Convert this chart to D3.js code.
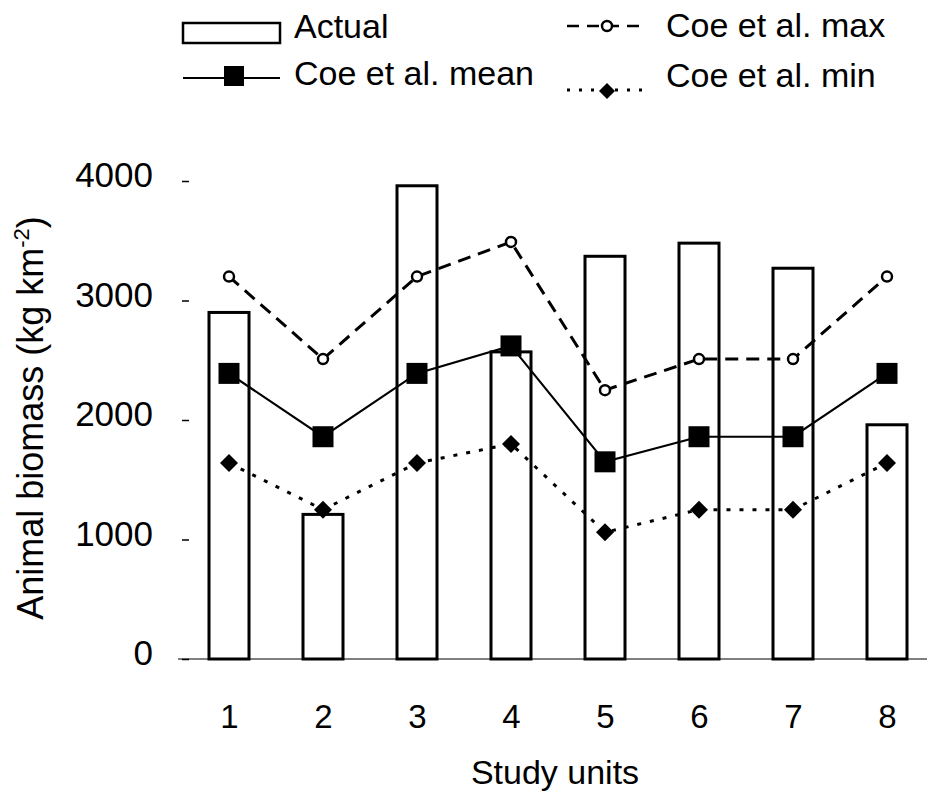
<!DOCTYPE html>
<html>
<head>
<meta charset="utf-8">
<script src="https://cdn.jsdelivr.net/npm/d3@7"></script>
<style>
  html, body { margin: 0; background: #fff; }
  svg { display: block; }
  text { font-family: "Liberation Sans", Arial, Helvetica, sans-serif; fill: #000; }
</style>
</head>
<body>
<svg id="chart" width="927" height="791"></svg>
<script>
// Study units and biomass values (kg km^-2)
const units   = ["1", "2", "3", "4", "5", "6", "7", "8"];
const actual  = [2900, 1210, 3960, 2570, 3370, 3480, 3270, 1960];
const coeMax  = [3200, 2510, 3200, 3490, 2250, 2510, 2510, 3200];
const coeMean = [2390, 1860, 2390, 2620, 1650, 1860, 1860, 2390];
const coeMin  = [1640, 1250, 1640, 1800, 1060, 1250, 1250, 1640];
const yTicks  = [0, 1000, 2000, 3000, 4000];

const svg = d3.select("#chart");

const x = d3.scalePoint().domain(units).range([229, 887]);
const y = d3.scaleLinear().domain([0, 4000]).range([659, 181]);
const barW = 40;

// diamond marker path (square rotated 45 degrees)
const diamond = r => `M0,${-r}L${r},0L0,${r}L${-r},0Z`;

// baseline
svg.append("line")
  .attr("x1", 178).attr("x2", 927)
  .attr("y1", y(0)).attr("y2", y(0))
  .attr("stroke", "#555").attr("stroke-width", 1.5);

// y axis: ticks and labels only
const yAxis = svg.append("g")
  .attr("transform", "translate(189,0)")
  .call(d3.axisLeft(y).tickValues(yTicks).tickSize(7).tickPadding(29).tickFormat(d3.format("d")));
yAxis.select(".domain").remove();
yAxis.selectAll(".tick line").attr("stroke", "#000").attr("stroke-width", 1.5);
yAxis.selectAll(".tick text")
  .attr("dy", "0.17em")
  .style("font-size", "35px")
  .style("font-family", '"Liberation Sans", Arial, sans-serif')
  .attr("fill", "#000");

// x axis labels
const xAxis = svg.append("g")
  .attr("transform", `translate(0,${y(0)})`)
  .call(d3.axisBottom(x).tickSize(0).tickPadding(46));
xAxis.select(".domain").remove();
xAxis.selectAll(".tick text")
  .style("font-size", "33px")
  .style("font-family", '"Liberation Sans", Arial, sans-serif')
  .attr("fill", "#000");

// bars: actual biomass
svg.append("g").selectAll("rect")
  .data(actual)
  .join("rect")
  .attr("x", (d, i) => x(units[i]) - barW / 2)
  .attr("width", barW)
  .attr("y", d => y(d))
  .attr("height", d => y(0) - y(d))
  .attr("fill", "#fff")
  .attr("stroke", "#000")
  .attr("stroke-width", 3);

const line = d3.line().x((d, i) => x(units[i])).y(d => y(d));

// Coe et al. max: dashed line with open circles
svg.append("path")
  .datum(coeMax)
  .attr("d", line)
  .attr("fill", "none")
  .attr("stroke", "#000")
  .attr("stroke-width", 3)
  .attr("stroke-dasharray", "13,8");
svg.append("g").selectAll("circle")
  .data(coeMax)
  .join("circle")
  .attr("cx", (d, i) => x(units[i]))
  .attr("cy", d => y(d))
  .attr("r", 5)
  .attr("fill", "#fff")
  .attr("stroke", "#000")
  .attr("stroke-width", 2.5);

// Coe et al. mean: solid line with filled squares
svg.append("path")
  .datum(coeMean)
  .attr("d", line)
  .attr("fill", "none")
  .attr("stroke", "#000")
  .attr("stroke-width", 2.2);
svg.append("g").selectAll("rect")
  .data(coeMean)
  .join("rect")
  .attr("x", (d, i) => x(units[i]) - 10.5)
  .attr("y", d => y(d) - 10.5)
  .attr("width", 21)
  .attr("height", 21)
  .attr("fill", "#000");

// Coe et al. min: dotted line with filled diamonds
svg.append("path")
  .datum(coeMin)
  .attr("d", line)
  .attr("fill", "none")
  .attr("stroke", "#000")
  .attr("stroke-width", 3)
  .attr("stroke-dasharray", "4,9");
svg.append("g").selectAll("path")
  .data(coeMin)
  .join("path")
  .attr("transform", (d, i) => `translate(${x(units[i])},${y(d)})`)
  .attr("d", diamond(9))
  .attr("fill", "#000");

// axis titles
svg.append("text")
  .attr("x", 555).attr("y", 784)
  .attr("text-anchor", "middle")
  .style("font-size", "34px")
  .text("Study units");

const yTitle = svg.append("text")
  .attr("transform", "translate(43,418) rotate(-90)")
  .attr("text-anchor", "middle")
  .style("font-size", "36px");
yTitle.append("tspan").text("Animal biomass (kg km");
yTitle.append("tspan").attr("dy", -14).style("font-size", "22px").text("-2");
yTitle.append("tspan").attr("dy", 14).text(")");

// legend
const lg = svg.append("g");
const legendFont = "34px";

lg.append("rect")
  .attr("x", 183).attr("y", 23).attr("width", 97).attr("height", 20)
  .attr("fill", "#fff").attr("stroke", "#000").attr("stroke-width", 2.5);
lg.append("text").attr("x", 294).attr("y", 38).style("font-size", legendFont).text("Actual");

lg.append("line")
  .attr("x1", 183).attr("x2", 280).attr("y1", 78).attr("y2", 78)
  .attr("stroke", "#000").attr("stroke-width", 2.2);
lg.append("rect")
  .attr("x", 224).attr("y", 66).attr("width", 20).attr("height", 20).attr("fill", "#000");
lg.append("text").attr("x", 294).attr("y", 85).style("font-size", legendFont).text("Coe et al. mean");

lg.append("line")
  .attr("x1", 567).attr("x2", 647).attr("y1", 26).attr("y2", 26)
  .attr("stroke", "#000").attr("stroke-width", 2.5)
  .attr("stroke-dasharray", "12,8");
lg.append("circle")
  .attr("cx", 607).attr("cy", 26).attr("r", 5)
  .attr("fill", "#fff").attr("stroke", "#000").attr("stroke-width", 2.5);
lg.append("text").attr("x", 666).attr("y", 37).style("font-size", legendFont).text("Coe et al. max");

lg.append("line")
  .attr("x1", 567).attr("x2", 647).attr("y1", 90).attr("y2", 90)
  .attr("stroke", "#000").attr("stroke-width", 3)
  .attr("stroke-dasharray", "3,9");
lg.append("path")
  .attr("transform", "translate(607,91)")
  .attr("d", diamond(8))
  .attr("fill", "#000");
lg.append("text").attr("x", 666).attr("y", 87).style("font-size", legendFont).text("Coe et al. min");
</script>
</body>
</html>
